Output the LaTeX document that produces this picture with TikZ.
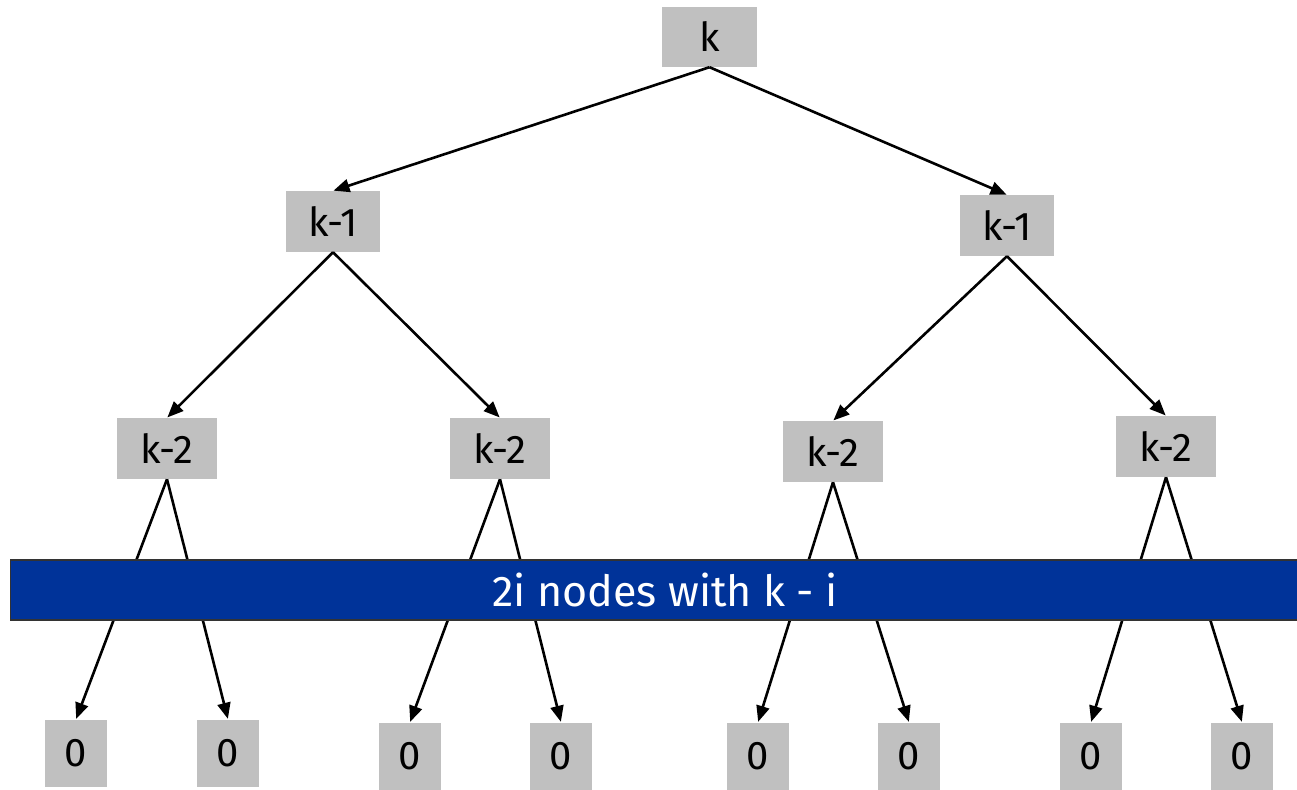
\documentclass[tikz,border=0pt]{standalone}
\usepackage{fontspec}
\setmainfont{Fira Sans}
\usetikzlibrary{arrows.meta}
\definecolor{boxgrey}{RGB}{192,192,192}
\definecolor{barblue}{RGB}{0,51,153}
\begin{document}
\begin{tikzpicture}[x=1pt,y=-1pt,
  treebox/.style={fill=boxgrey, draw=none, inner sep=0pt, font=\fontsize{40}{44}\selectfont},
  wide/.style={treebox, minimum width=97pt, minimum height=61pt},
  leaf/.style={treebox, minimum width=62pt, minimum height=67pt},
  edge/.style={line width=2.6pt, -{Triangle[length=16pt,width=13pt]}, shorten >=0.5pt},
  band/.style={fill=barblue, draw=black!80, line width=1.2pt, inner sep=0pt}]
\useasboundingbox (0,0) rectangle (1297,789);

% root and first level
\node[wide, minimum width=95pt, minimum height=60pt] (r) at (709.5,37) {k};
\node[wide, minimum width=94pt] (a) at (333,221.5) {k-1};
\node[wide, minimum width=94pt] (b) at (1007,225.5) {k-1};

% second level
\node[wide, minimum width=100pt] (a1) at (167,448.5) {k-2};
\node[wide, minimum width=100pt] (a2) at (500,448.5) {k-2};
\node[wide, minimum width=100pt] (b1) at (833,451.5) {k-2};
\node[wide, minimum width=100pt] (b2) at (1166,446.5) {k-2};

% leaves
\node[leaf] (l1) at (76,753) {0};
\node[leaf] (l2) at (228,753) {0};
\node[leaf] (l3) at (410,756) {0};
\node[leaf] (l4) at (561,756) {0};
\node[leaf] (l5) at (758,756) {0};
\node[leaf] (l6) at (909,756) {0};
\node[leaf] (l7) at (1091,756) {0};
\node[leaf] (l8) at (1242,756) {0};

% connectors
\draw[edge] (r.south) -- (a.north);
\draw[edge] (r.south) -- (b.north);
\draw[edge] (a.south) -- (a1.north);
\draw[edge] (a.south) -- (a2.north);
\draw[edge] (b.south) -- (b1.north);
\draw[edge] (b.south) -- (b2.north);
\draw[edge] (a1.south) -- (l1.north);
\draw[edge] (a1.south) -- (l2.north);
\draw[edge] (a2.south) -- (l3.north);
\draw[edge] (a2.south) -- (l4.north);
\draw[edge] (b1.south) -- (l5.north);
\draw[edge] (b1.south) -- (l6.north);
\draw[edge] (b2.south) -- (l7.north);
\draw[edge] (b2.south) -- (l8.north);

% band across the lower levels
\node[band, minimum width=1300pt, minimum height=60pt, anchor=west] (bar) at (10,590) {};
\node[text=white, inner sep=0pt, font=\fontsize{43}{47}\selectfont] (lbl) at (665,590) {2i nodes with k - i};
\end{tikzpicture}
\end{document}
